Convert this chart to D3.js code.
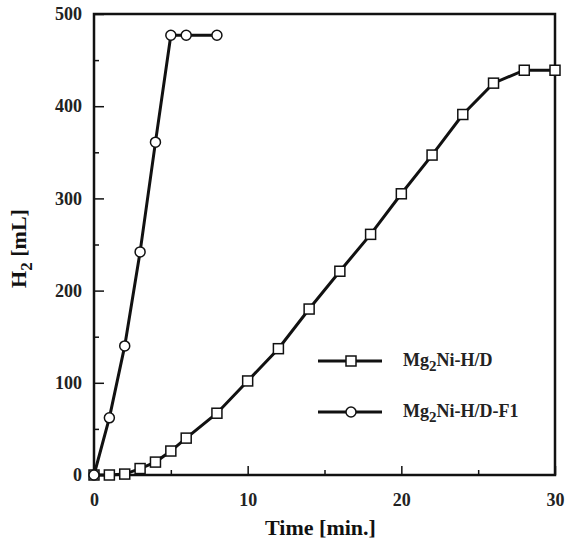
<!DOCTYPE html>
<html>
<head>
<meta charset="utf-8">
<title>H2 absorption</title>
<script src="https://d3js.org/d3.v7.min.js"></script>
<style>
 body { margin: 0; background: #fff; }
 .axis text { font: bold 18px "Liberation Serif", "Times New Roman", serif; fill: #222; }
 .axis path { display: none; }
 .axis line { stroke: #111; stroke-width: 1.5; }
 .title { font: bold 22px "Liberation Serif", "Times New Roman", serif; fill: #111; }
 .legend { font: bold 18px "Liberation Serif", "Times New Roman", serif; fill: #222; }
</style>
</head>
<body>
<div id="chart"></div>
<script>
// time in minutes
var timeHD = [0, 1, 2, 3, 4, 5, 6, 8, 10, 12, 14, 16, 18, 20, 22, 24, 26, 28, 30];
var volHD  = [0, 0, 1, 7, 14, 26, 40, 67, 102, 137, 180, 221, 261, 305, 347, 391, 425, 439, 439];
var timeF1 = [0, 1, 2, 3, 4, 5, 6, 8];
var volF1  = [0, 62, 140, 242, 361, 477, 477, 477];
var xTicks = [0, 10, 20, 30];
var xMinor = [5, 15, 25];
var yTicks = [0, 100, 200, 300, 400, 500];
var yMinor = [50, 150, 250, 350, 450];
var seriesNames = ["Mg2Ni-H/D", "Mg2Ni-H/D-F1"];

var margin = {top: 14, right: 10, bottom: 69, left: 94};
var W = 565, H = 544;
var width = W - margin.left - margin.right;
var height = H - margin.top - margin.bottom;

var x = d3.scaleLinear().domain([0, 30]).range([0, width]);
var y = d3.scaleLinear().domain([0, 500]).range([height, 0]);

var svg = d3.select("#chart").append("svg")
  .attr("width", W)
  .attr("height", H)
  .append("g")
  .attr("transform", "translate(" + margin.left + "," + margin.top + ")");

// axes, ticks pointing inward
svg.append("g").attr("class", "axis")
  .attr("transform", "translate(0," + height + ")")
  .call(d3.axisBottom(x).tickValues(xTicks).tickSize(-9).tickPadding(18).tickFormat(d3.format("d")));
svg.append("g").attr("class", "axis")
  .attr("transform", "translate(0," + height + ")")
  .call(d3.axisBottom(x).tickValues(xMinor).tickSize(-5).tickFormat(""));
svg.append("g").attr("class", "axis")
  .call(d3.axisLeft(y).tickValues(yTicks).tickSize(-10).tickPadding(12).tickFormat(d3.format("d")));
svg.append("g").attr("class", "axis")
  .call(d3.axisLeft(y).tickValues(yMinor).tickSize(-5).tickFormat(""));

svg.append("rect")
  .attr("width", width).attr("height", height)
  .attr("fill", "none").attr("stroke", "#111").attr("stroke-width", 2.5);

var line = d3.line()
  .x(function(d) { return x(d[0]); })
  .y(function(d) { return y(d[1]); });

var hd = timeHD.map(function(t, i) { return [t, volHD[i]]; });
var f1 = timeF1.map(function(t, i) { return [t, volF1[i]]; });

[hd, f1].forEach(function(data) {
  svg.append("path")
    .datum(data)
    .attr("fill", "none")
    .attr("stroke", "#111")
    .attr("stroke-width", 3)
    .attr("d", line);
});

function square(g, cx, cy) {
  g.append("rect")
    .attr("x", cx - 5).attr("y", cy - 5)
    .attr("width", 10).attr("height", 10)
    .attr("fill", "#fff").attr("stroke", "#111").attr("stroke-width", 1.5);
}
function circle(g, cx, cy) {
  g.append("circle")
    .attr("cx", cx).attr("cy", cy).attr("r", 5)
    .attr("fill", "#fff").attr("stroke", "#111").attr("stroke-width", 1.5);
}

hd.forEach(function(d) { square(svg, x(d[0]), y(d[1])); });
f1.forEach(function(d) { circle(svg, x(d[0]), y(d[1])); });

// axis titles
svg.append("text").attr("class", "title")
  .attr("x", width / 2 - 4).attr("y", height + 60)
  .attr("text-anchor", "middle")
  .text("Time [min.]");

var yt = svg.append("text").attr("class", "title")
  .attr("transform", "translate(-68," + (height / 2 + 4) + ") rotate(-90)")
  .attr("text-anchor", "middle");
yt.append("tspan").text("H");
yt.append("tspan").attr("font-size", "17px").attr("dy", 6).text("2");
yt.append("tspan").attr("dy", -6).text(" [mL]");

// legend
var lg = svg.append("g").attr("transform", "translate(" + (318 - margin.left) + "," + (361 - margin.top) + ")");
seriesNames.forEach(function(name, i) {
  var row = lg.append("g").attr("transform", "translate(0," + (i * 51) + ")");
  row.append("line").attr("x1", 0).attr("x2", 64)
    .attr("stroke", "#111").attr("stroke-width", 3);
  if (i === 0) square(row, 33, 0); else circle(row, 33, 0);
  var t = row.append("text").attr("class", "legend").attr("x", 85).attr("y", 5);
  t.append("tspan").text("Mg");
  t.append("tspan").attr("font-size", "15px").attr("dy", 5).text("2");
  t.append("tspan").attr("dy", -5).text(name.slice(3));
});
</script>
</body>
</html>
